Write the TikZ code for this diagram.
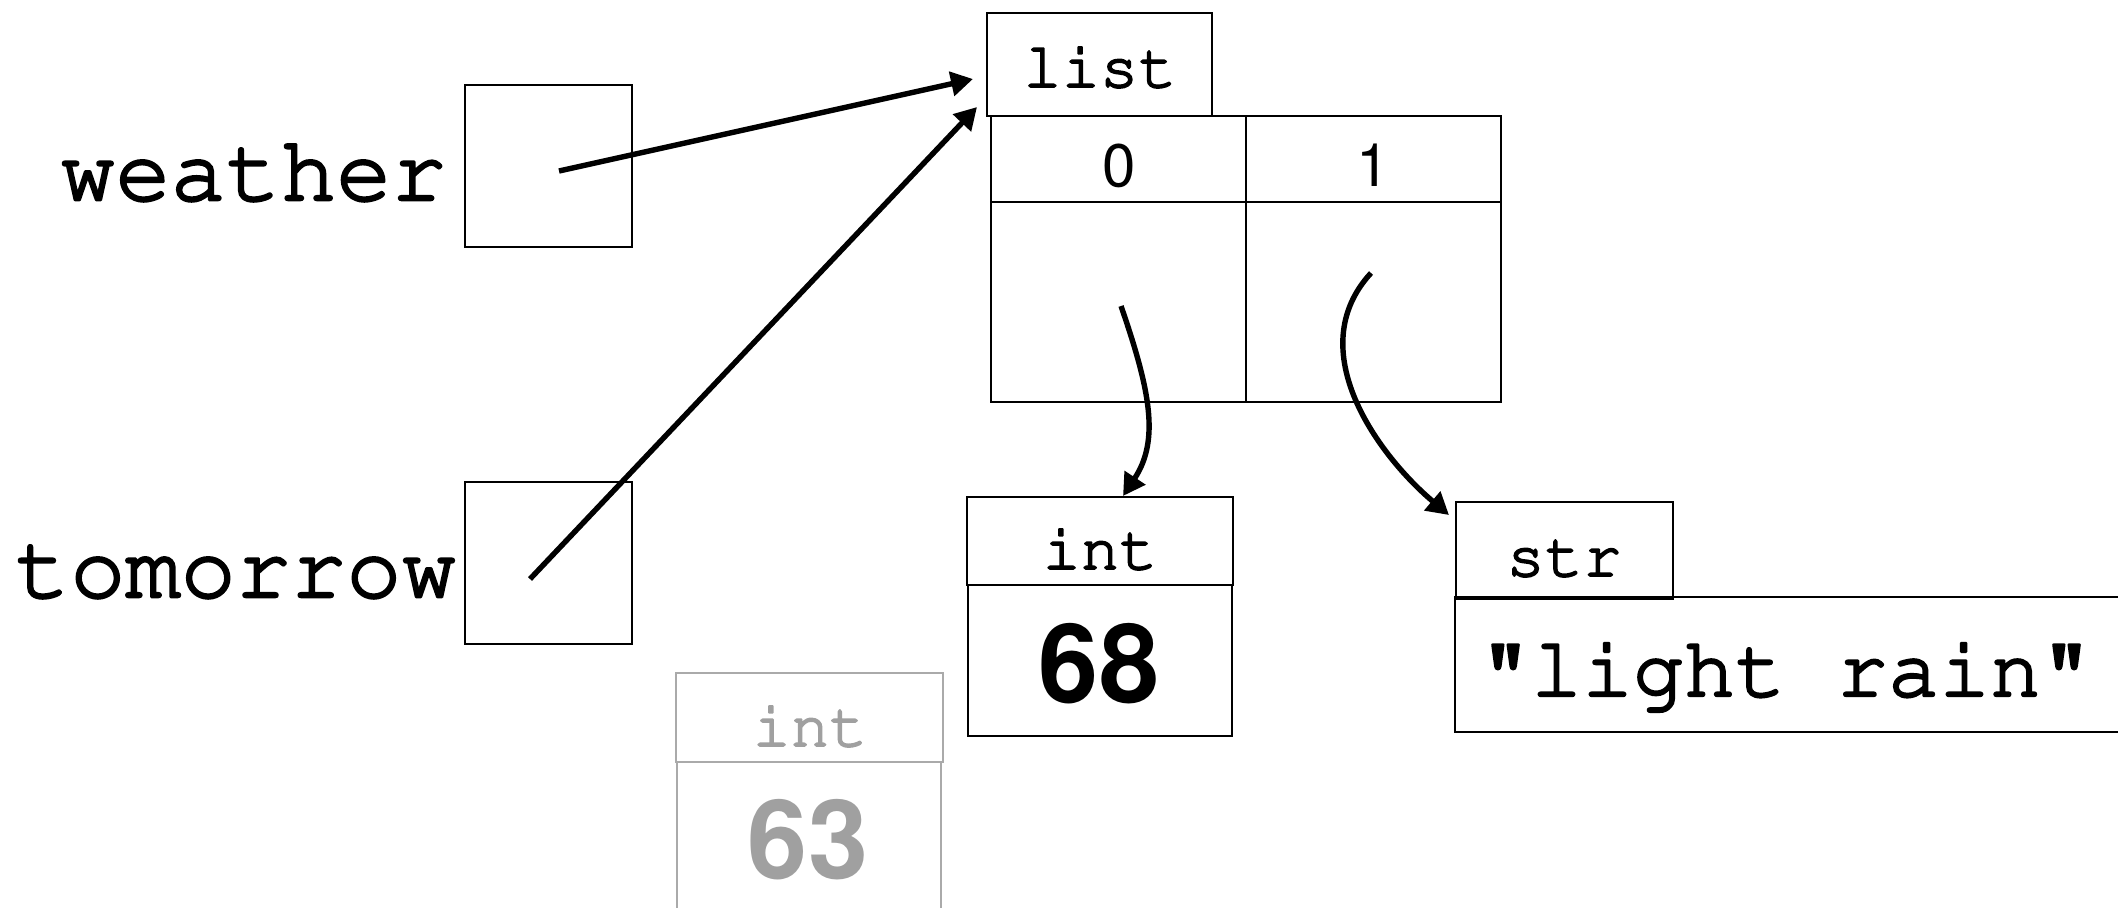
\documentclass[tikz,border=0pt]{standalone}
\usepackage[T1]{fontenc}
\usetikzlibrary{arrows.meta}
\newcommand\courfont{\fontfamily{pcr}\selectfont}
\newcommand\helvfont{\fontfamily{phv}\selectfont}
% slightly heavier Courier: fill + thin stroke of the glyph outlines
\newcommand\medtext[2]{\special{pdf:literal direct 2 Tr #1 w 1 j}#2\special{pdf:literal direct 0 Tr}}
\definecolor{ghost}{RGB}{160,160,160}
\definecolor{ghostline}{RGB}{170,170,170}
\begin{document}
\begin{tikzpicture}[x=0.5pt,y=-0.5pt,
  box/.style={draw, line width=1.2pt, rectangle, inner sep=0pt, outer sep=0pt},
  ptr/.style={line width=2.7pt, -{Triangle[length=11pt,width=12pt]}},
  bigtt/.style={font={\courfont\fontsize{46}{50}\selectfont}, inner sep=0pt},
  valtt/.style={font={\courfont\fontsize{42.5}{50}\selectfont}, inner sep=0pt},
  typett/.style={font={\courfont\fontsize{32}{36}\selectfont}, inner sep=0pt},
  idxsf/.style={font={\helvfont\fontsize{30}{34}\selectfont}, inner sep=0pt},
  numsf/.style={font={\helvfont\bfseries\fontsize{54}{60}\selectfont}, inner sep=0pt},
  ghostbox/.style={box, draw=ghostline},
]
\useasboundingbox (0,0) rectangle (2118,907);
\clip (0,0) rectangle (2118,907);

% variables
\node[box, minimum width=83.5pt, minimum height=81pt] (wbox) at (548.5,166) {};
\node[bigtt, anchor=base east] (wlbl) at (447,200) {\medtext{1.3}{weather}};
\node[box, minimum width=83.5pt, minimum height=81pt] (tbox) at (548.5,563) {};
\node[bigtt, anchor=base east] (tlbl) at (457,597) {\medtext{1.3}{tomorrow}};

% list object
\node[box, minimum width=112.5pt, minimum height=51.5pt] (listhd) at (1099.5,64.5) {};
\node[typett, anchor=base] (listtxt) at (1100,87) {\medtext{0.9}{list}};
\node[box, minimum width=127.5pt, minimum height=43pt] (c0h) at (1118.5,159) {};
\node[box, minimum width=127.5pt, minimum height=43pt] (c1h) at (1373.5,159) {};
\node[box, minimum width=127.5pt, minimum height=100pt] (c0) at (1118.5,302) {};
\node[box, minimum width=127.5pt, minimum height=100pt] (c1) at (1373.5,302) {};
\node[idxsf, anchor=base] (i0) at (1119.5,186) {0};
\node[idxsf, anchor=base] (i1) at (1373,186) {1};

% int 68
\node[box, minimum width=133pt, minimum height=44pt] (inthd) at (1100,541) {};
\node[typett, anchor=base] (inttxt) at (1100,569) {\medtext{0.9}{int}};
\node[box, minimum width=132pt, minimum height=75.5pt] (intval) at (1100,660.5) {};
\node[numsf, anchor=base] (n68) at (1099,701) {68};

% ghost int 63
\node[ghostbox, minimum width=133.5pt, minimum height=44.5pt] (ghd) at (809.5,717.5) {};
\node[typett, text=ghost, anchor=base] (gtxt) at (810,746) {\medtext{0.9}{int}};
\node[ghostbox, minimum width=132pt, minimum height=119pt] (gval) at (809,881) {};
\node[numsf, text=ghost, anchor=base] (n63) at (808,877) {63};

% str
\node[box, minimum width=108.5pt, minimum height=48.5pt] (strhd) at (1564.5,550.5) {};
\node[typett, anchor=base] (strtxt) at (1564,576) {\medtext{0.9}{str}};
\node[box, minimum width=422.5pt, minimum height=67.5pt] (strval) at (1877.5,664.5) {};
\node[valtt, anchor=base] (strv) at (1786,696) {\medtext{1.2}{"light rain"}};

% pointer origins
\coordinate (wstart) at (559,171);
\coordinate (tstart) at (530,579);
\coordinate (c0start) at (1121,306);
\coordinate (c1start) at (1371,273);

% pointers
\draw[ptr] (wstart) -- ([shift={(-14,14.5)}]listhd.west);
\draw[ptr] (tstart) -- ([shift={(-10,-9)}]listhd.south west);
\draw[ptr] (c0start) .. controls (1150,390) and (1160,440) .. ([shift={(23,-1)}]inthd.north);
\draw[ptr] (c1start) .. controls (1300,350) and (1379,456) .. ([shift={(-7,13)}]strhd.north west);
\end{tikzpicture}
\end{document}
